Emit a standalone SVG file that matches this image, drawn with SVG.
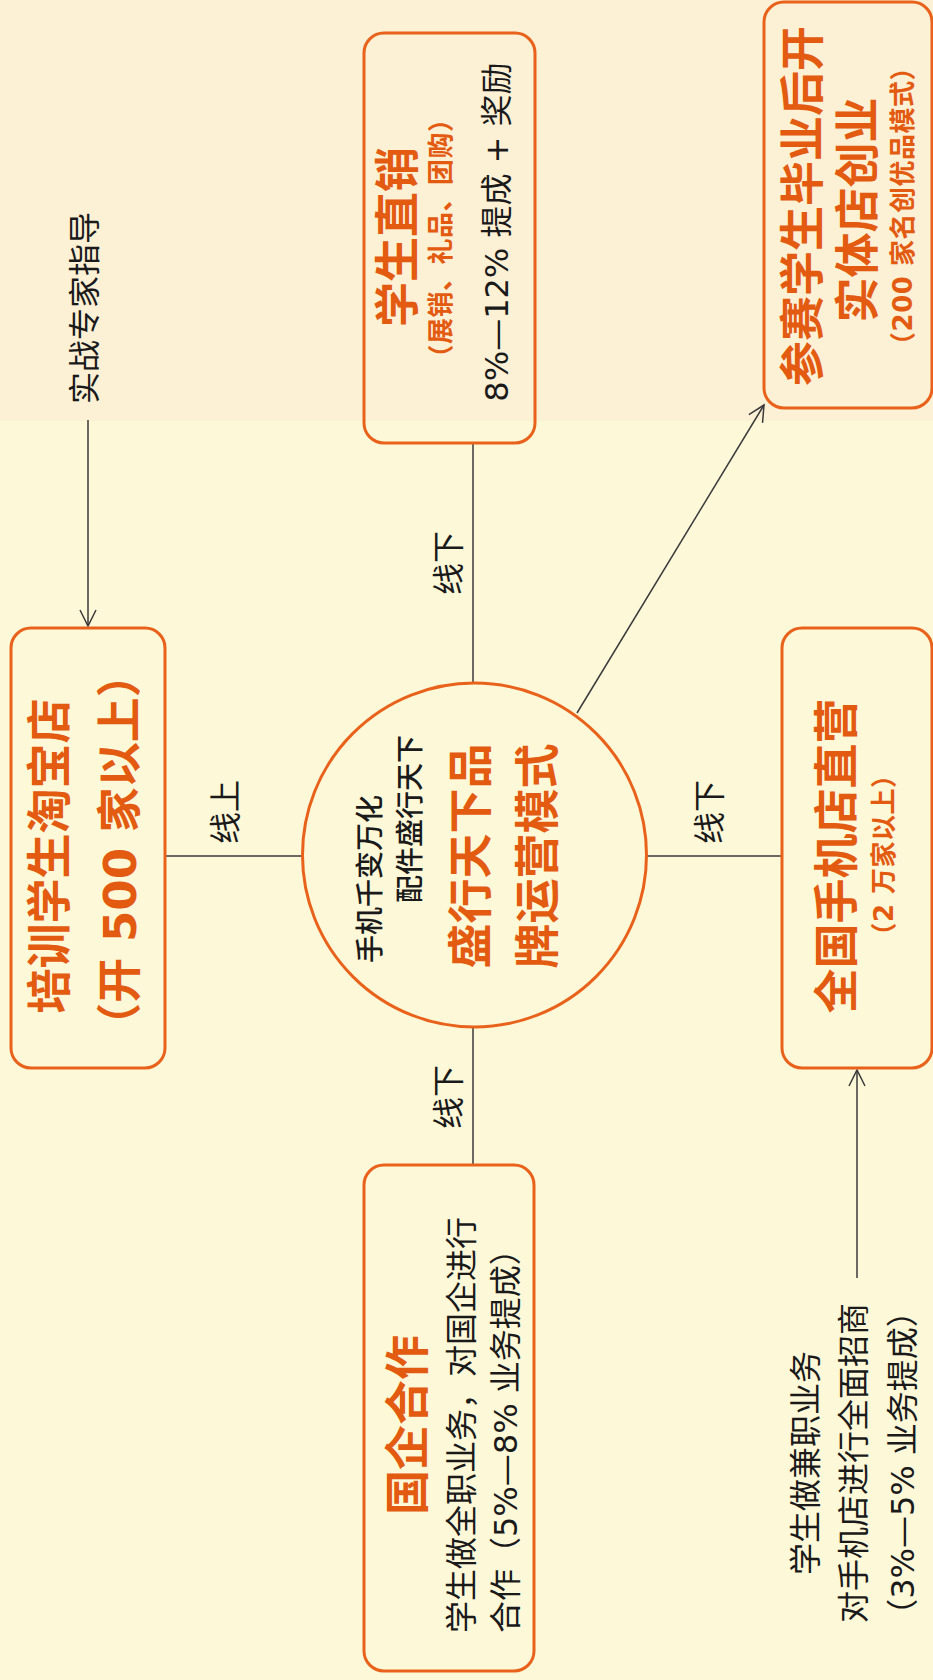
<svg xmlns="http://www.w3.org/2000/svg" width="933" height="1680" viewBox="0 0 933 1680">
<defs>
<style>
.box{fill:none;stroke:#E8621B;stroke-width:3}
.t{font-family:"DejaVu Sans","Noto Sans CJK SC",sans-serif;text-anchor:middle;dominant-baseline:central}
.s{text-anchor:start}
.title{font-size:45px;font-weight:bold;fill:#E35B10}
.sub{font-size:26px;font-weight:bold;fill:#E35B10;letter-spacing:0.5px}
.body{font-size:32px;fill:#1a1a1a}
.small{font-size:28px;font-weight:500;fill:#1a1a1a}
.conn{stroke:#3a3a3a;stroke-width:1.5;fill:none}
</style>
<marker id="arr" viewBox="0 0 20 20" refX="18" refY="10" markerWidth="20" markerHeight="20" markerUnits="userSpaceOnUse" orient="auto">
<path d="M2,2 L18,10 L2,18" fill="none" stroke="#3a3a3a" stroke-width="1.5"/>
</marker>
</defs>
<rect x="0" y="0" width="933" height="1680" fill="#FDF8D8"/>
<rect x="0" y="0" width="933" height="421" fill="#FCF0D5"/>

<g id="connectors">
<line class="conn" x1="88" y1="420" x2="88" y2="626" marker-end="url(#arr)"/>
<line class="conn" x1="164" y1="856" x2="302" y2="856"/>
<line class="conn" x1="647" y1="856" x2="782" y2="856"/>
<line class="conn" x1="473" y1="443" x2="473" y2="683"/>
<line class="conn" x1="473" y1="1027" x2="473" y2="1165"/>
<line class="conn" x1="577" y1="713" x2="764" y2="405" marker-end="url(#arr)"/>
<line class="conn" x1="857" y1="1278" x2="857" y2="1070" marker-end="url(#arr)"/>
<text class="t body" x="226" y="812" transform="rotate(-90 226 812)">线上</text>
<text class="t body" x="449" y="563" transform="rotate(-90 449 563)">线下</text>
<text class="t body" x="449" y="1097" transform="rotate(-90 449 1097)">线下</text>
<text class="t body" x="710" y="812" transform="rotate(-90 710 812)">线下</text>
</g>

<g id="expert">
<text class="t body" x="85" y="308" transform="rotate(-90 85 308)">实战专家指导</text>
</g>

<g id="taobao">
<rect class="box" x="11" y="628" width="154" height="440" rx="20"/>
<text class="t title" x="50" y="856" transform="rotate(-90 50 856)">培训学生淘宝店</text>
<text class="t title" x="120" y="850" transform="rotate(-90 120 850)">（开 500 家以上）</text>
</g>

<g id="center">
<circle cx="474.5" cy="855" r="172" fill="none" stroke="#E8621B" stroke-width="3"/>
<text class="t small" x="370" y="879" transform="rotate(-90 370 879)">手机千变万化</text>
<text class="t small" x="410" y="819" transform="rotate(-90 410 819)">配件盛行天下</text>
<text class="t title" x="471" y="856" transform="rotate(-90 471 856)">盛行天下品</text>
<text class="t title" x="538" y="856" transform="rotate(-90 538 856)">牌运营模式</text>
</g>

<g id="direct">
<rect class="box" x="364" y="33" width="171" height="410" rx="20"/>
<text class="t title" x="398" y="237" transform="rotate(-90 398 237)">学生直销</text>
<text class="t sub" x="441" y="238" transform="rotate(-90 441 238)">（展销、礼品、团购）</text>
<text class="t body" x="497" y="232" transform="rotate(-90 497 232)">8%—12% 提成 + 奖励</text>
</g>

<g id="startup">
<rect class="box" x="764" y="2" width="168" height="406" rx="20"/>
<text class="t title" x="803" y="206" transform="rotate(-90 803 206)">参赛学生毕业后开</text>
<text class="t title" x="858" y="210" transform="rotate(-90 858 210)">实体店创业</text>
<text class="t sub" x="903" y="206" transform="rotate(-90 903 206)">（200 家名创优品模式）</text>
</g>

<g id="national">
<rect class="box" x="782" y="628" width="150" height="440" rx="20"/>
<text class="t title" x="837" y="856" transform="rotate(-90 837 856)">全国手机店直营</text>
<text class="t sub" x="884" y="855" transform="rotate(-90 884 855)">（2 万家以上）</text>
</g>

<g id="soe">
<rect class="box" x="364" y="1165" width="170" height="506" rx="20"/>
<text class="t title" x="408" y="1425" transform="rotate(-90 408 1425)">国企合作</text>
<text class="t body s" x="462" y="1633" transform="rotate(-90 462 1633)">学生做全职业务，对国企进行</text>
<text class="t body s" x="506" y="1633" transform="rotate(-90 506 1633)">合作（5%—8% 业务提成）</text>
</g>

<g id="parttime">
<text class="t body" x="806" y="1463" transform="rotate(-90 806 1463)">学生做兼职业务</text>
<text class="t body" x="854" y="1463" transform="rotate(-90 854 1463)">对手机店进行全面招商</text>
<text class="t body" x="903" y="1463" transform="rotate(-90 903 1463)">（3%—5% 业务提成）</text>
</g>
</svg>
